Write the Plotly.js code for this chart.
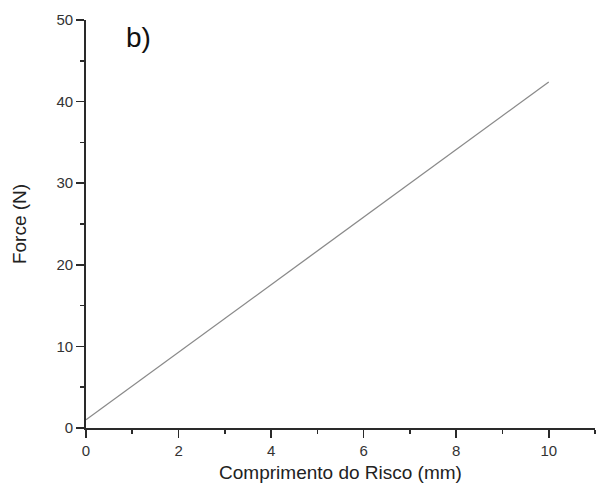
<!DOCTYPE html>
<html>
<head>
<meta charset="utf-8">
<script src="https://cdn.plot.ly/plotly-3.0.1.min.js"></script>
<style>html,body{margin:0;padding:0;background:#fff;}#chart{width:596px;height:492px;}</style>
</head>
<body>
<div id="chart"></div>
<script>
const lengthMm = [0, 10];
const forceN = [1.0, 42.4];
const xTitle = 'Comprimento do Risco (mm)';
const yTitle = 'Force (N)';
const panelLabel = 'b)';

const FONT = 'Liberation Sans, Arial, sans-serif';
const trace = {
  x: lengthMm, y: forceN, mode: 'lines', type: 'scatter',
  line: {color: '#8a8a8a', width: 1.3}, showlegend: false, hoverinfo: 'skip'
};
const axisCommon = {
  showgrid: false, zeroline: false, showline: true, linecolor: '#2a2a2a', linewidth: 1.8,
  ticks: 'outside', ticklen: 8, tickwidth: 1.6, tickcolor: '#2a2a2a',
  tickfont: {family: FONT, size: 15, color: '#333'},
  mirror: false
};
const layout = {
  width: 596, height: 492,
  margin: {l: 86, r: 1, t: 20, b: 64},
  paper_bgcolor: '#fff', plot_bgcolor: '#fff',
  xaxis: Object.assign({}, axisCommon, {
    range: [0, 11.0], dtick: 2, tick0: 0,
    minor: {dtick: 1, tick0: 0, ticks: 'outside', ticklen: 4, tickwidth: 1.6, tickcolor: '#2a2a2a', showgrid: false},
    title: {text: xTitle, standoff: 8, font: {family: FONT, size: 19, color: '#222'}}
  }),
  yaxis: Object.assign({}, axisCommon, {
    range: [0, 50], dtick: 10, tick0: 0,
    minor: {dtick: 5, tick0: 0, ticks: 'outside', ticklen: 4, tickwidth: 1.6, tickcolor: '#2a2a2a', showgrid: false},
    title: {text: yTitle, standoff: 25, font: {family: FONT, size: 19, color: '#222'}}
  }),
  annotations: [{
    text: panelLabel, xref: 'paper', yref: 'paper', x: 0.075, y: 0.957,
    xanchor: 'left', yanchor: 'middle', showarrow: false,
    font: {family: FONT, size: 28, color: '#111'}
  }]
};
Plotly.newPlot('chart', [trace], layout, {displayModeBar: false, staticPlot: true});
</script>
</body>
</html>
